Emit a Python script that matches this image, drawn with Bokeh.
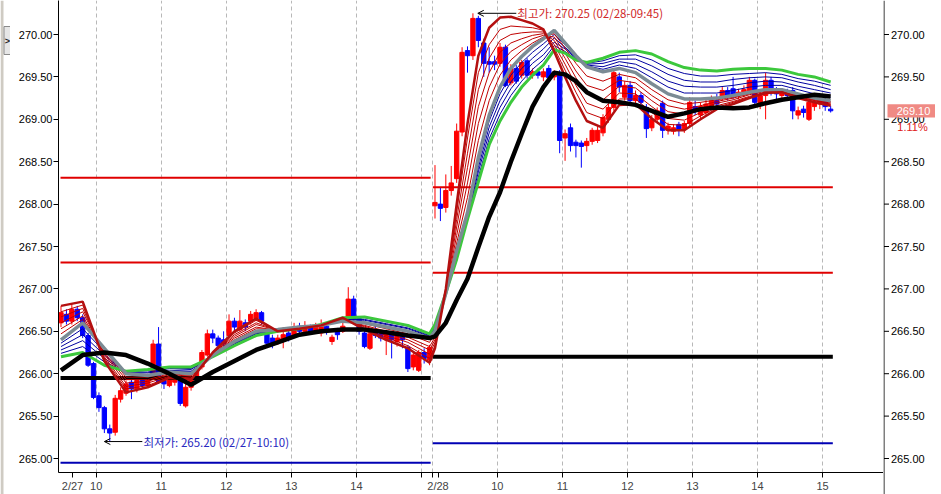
from bokeh.plotting import figure
from bokeh.layouts import row
from bokeh.models import (Range1d, FixedTicker, Arrow, OpenHead, Label, Span,
                          NumeralTickFormatter, ColumnDataSource)
from bokeh.core.properties import value
from bokeh.embed import file_html
from bokeh.resources import INLINE

# ---------------- 5-minute candles (bar index 0..68 = 2/27, 69..142 = 2/28) ----------------
open_px = [
    266.60, 266.70, 266.62, 266.76, 266.66, 266.45, 266.12, 265.74, 265.60, 265.35,
    265.31, 265.70, 265.77, 265.90, 265.82, 265.93, 265.86, 265.98, 266.35, 265.92,
    265.86, 265.90, 265.92, 265.62, 265.84, 265.95, 266.08, 266.22, 266.47, 266.42,
    266.40, 266.45, 266.62, 266.52, 266.60, 266.62, 266.65, 266.72, 266.48, 266.42,
    266.38, 266.38, 266.48, 266.45, 266.56, 266.50, 266.55, 266.50, 266.48, 266.56,
    266.38, 266.50, 266.50, 266.65, 266.88, 266.65, 266.48, 266.30, 266.50, 266.47,
    266.40, 266.47, 266.38, 266.45, 266.31, 266.08, 266.04, 266.25, 266.16,
    267.98, 268.00, 267.96, 268.16, 268.30, 268.85, 269.81, 269.75, 270.19, 269.90,
    269.68, 269.68, 269.66, 269.85, 269.43, 269.60, 269.52, 269.69, 269.52, 269.56,
    269.50, 269.60, 269.50, 269.55, 268.78, 268.90, 268.73, 268.72, 268.69, 268.74,
    268.75, 268.84, 269.00, 269.14, 269.50, 269.26, 269.40, 269.22, 269.28, 269.14,
    268.90, 269.00, 269.19, 268.87, 268.86, 268.94, 268.88, 268.95, 269.15, 269.05,
    269.08, 269.15, 269.22, 269.26, 269.34, 269.36, 269.28, 269.30, 269.32, 269.46,
    269.17, 269.28, 269.46, 269.33, 269.28, 269.32, 269.34, 269.05, 269.12, 269.00,
    269.15, 269.18, 269.22, 269.12]
high_px = [
    266.80, 266.76, 266.82, 266.80, 266.70, 266.48, 266.14, 265.78, 265.62, 265.40,
    265.75, 265.84, 265.92, 265.96, 265.97, 265.96, 266.00, 266.40, 266.55, 265.95,
    265.98, 265.98, 265.95, 265.88, 265.98, 266.10, 266.28, 266.52, 266.52, 266.45,
    266.50, 266.70, 266.66, 266.75, 266.64, 266.74, 266.76, 266.74, 266.52, 266.46,
    266.46, 266.55, 266.52, 266.60, 266.60, 266.62, 266.58, 266.60, 266.64, 266.60,
    266.46, 266.54, 266.62, 267.02, 266.92, 266.68, 266.52, 266.50, 266.58, 266.50,
    266.52, 266.50, 266.50, 266.48, 266.34, 266.26, 266.28, 266.30, 266.34,
    268.46, 268.20, 268.35, 268.45, 268.95, 269.85, 269.86, 270.25, 270.22, 269.95,
    269.85, 269.75, 269.90, 269.88, 269.65, 269.64, 269.70, 269.72, 269.60, 269.60,
    269.60, 269.64, 269.58, 269.58, 268.88, 268.95, 268.76, 268.75, 268.78, 268.90,
    268.92, 269.06, 269.18, 269.60, 269.55, 269.45, 269.45, 269.34, 269.32, 269.18,
    269.05, 269.14, 269.22, 268.96, 268.94, 268.97, 268.98, 269.26, 269.22, 269.20,
    269.24, 269.28, 269.30, 269.38, 269.38, 269.50, 269.36, 269.40, 269.50, 269.48,
    269.32, 269.55, 269.50, 269.38, 269.36, 269.36, 269.38, 269.15, 269.16, 269.24,
    269.24, 269.26, 269.26, 269.16]
low_px = [
    266.55, 266.58, 266.58, 266.62, 266.42, 266.08, 265.70, 265.55, 265.30, 265.20,
    265.27, 265.66, 265.74, 265.70, 265.78, 265.82, 265.84, 265.95, 265.88, 265.82,
    265.84, 265.86, 265.62, 265.60, 265.80, 265.92, 266.05, 266.20, 266.36, 266.28,
    266.30, 266.42, 266.50, 266.50, 266.50, 266.58, 266.62, 266.58, 266.32, 266.30,
    266.34, 266.30, 266.38, 266.42, 266.46, 266.47, 266.46, 266.48, 266.44, 266.46,
    266.34, 266.40, 266.48, 266.62, 266.62, 266.46, 266.30, 266.28, 266.42, 266.38,
    266.22, 266.18, 266.32, 266.30, 266.02, 266.04, 266.02, 266.12, 266.10,
    267.83, 267.80, 267.90, 268.10, 268.25, 268.80, 269.55, 269.70, 269.85, 269.50,
    269.55, 269.58, 269.62, 269.38, 269.40, 269.42, 269.48, 269.48, 269.48, 269.48,
    269.45, 269.46, 269.46, 268.60, 268.51, 268.62, 268.55, 268.43, 268.62, 268.70,
    268.72, 268.80, 268.96, 269.10, 269.32, 269.22, 269.18, 269.18, 269.15, 268.78,
    268.86, 268.96, 268.78, 268.82, 268.82, 268.80, 268.84, 268.92, 269.05, 269.00,
    269.05, 269.12, 269.12, 269.22, 269.22, 269.24, 269.24, 269.26, 269.30, 269.15,
    269.12, 269.00, 269.28, 269.22, 269.22, 269.24, 269.00, 269.00, 269.02, 268.98,
    269.10, 269.12, 269.10, 269.08]
close_px = [
    266.72, 266.62, 266.76, 266.66, 266.45, 266.10, 265.72, 265.60, 265.35, 265.30,
    265.71, 265.80, 265.88, 265.82, 265.92, 265.86, 265.96, 266.35, 265.90, 265.88,
    265.93, 265.95, 265.65, 265.84, 265.95, 266.05, 266.25, 266.47, 266.42, 266.33,
    266.35, 266.62, 266.55, 266.62, 266.55, 266.70, 266.72, 266.62, 266.36, 266.35,
    266.42, 266.46, 266.42, 266.55, 266.50, 266.56, 266.50, 266.55, 266.56, 266.50,
    266.43, 266.46, 266.56, 266.88, 266.65, 266.50, 266.32, 266.47, 266.45, 266.42,
    266.47, 266.40, 266.47, 266.40, 266.06, 266.22, 266.25, 266.18, 266.31,
    268.02, 267.95, 268.16, 268.25, 268.86, 269.79, 269.75, 270.19, 269.93, 269.66,
    269.65, 269.65, 269.85, 269.40, 269.60, 269.45, 269.67, 269.52, 269.56, 269.52,
    269.56, 269.49, 269.55, 268.75, 268.83, 268.69, 268.69, 268.68, 268.74, 268.87,
    268.87, 269.02, 269.14, 269.55, 269.38, 269.40, 269.22, 269.28, 269.20, 268.89,
    269.00, 269.10, 268.87, 268.92, 268.90, 268.88, 268.95, 269.20, 269.10, 269.15,
    269.18, 269.22, 269.18, 269.34, 269.28, 269.28, 269.32, 269.35, 269.46, 269.20,
    269.28, 269.46, 269.33, 269.30, 269.32, 269.28, 269.10, 269.10, 269.08, 269.20,
    269.20, 269.22, 269.15, 269.10]

# ---------------- moving-average ribbon, sampled at these bar indices ----------------
ma_x = [0, 4, 8, 12, 16, 20, 24, 28, 32, 36, 40, 44, 48, 52, 56, 60, 64, 68,
        69, 71, 73, 75, 77, 79, 81, 83, 85, 87, 89, 91, 93, 95, 97,
        100, 103, 106, 109, 112, 115, 118, 121, 124, 127, 130, 133, 136, 139, 142]
ma_fast = [266.80, 266.85, 266.15, 265.78, 265.84, 265.95, 265.93, 266.25, 266.50, 266.65, 266.50, 266.53,
           266.57, 266.66, 266.52, 266.40, 266.30, 266.13, 266.30, 267.00, 268.00, 268.95, 269.75, 270.08,
           270.20, 270.21, 270.17, 270.13, 270.06, 269.80, 269.50, 269.22, 268.98, 268.90, 269.17, 269.18,
           269.01, 268.87, 268.87, 269.00, 269.12, 269.18, 269.25, 269.31, 269.32, 269.25, 269.20, 269.16]
ma_red1 = [266.73, 266.81, 266.18, 265.82, 265.86, 265.96, 265.94, 266.25, 266.48, 266.63, 266.50, 266.53,
           266.57, 266.65, 266.53, 266.43, 266.33, 266.18, 266.33, 266.99, 267.91, 268.78, 269.55, 269.88,
           270.06, 270.10, 270.09, 270.08, 270.05, 269.84, 269.58, 269.32, 269.08, 269.01, 269.24, 269.24,
           269.08, 268.94, 268.93, 269.04, 269.14, 269.20, 269.26, 269.32, 269.33, 269.26, 269.21, 269.17]
ma_red2 = [266.67, 266.77, 266.20, 265.85, 265.89, 265.97, 265.95, 266.24, 266.46, 266.60, 266.51, 266.54,
           266.57, 266.65, 266.55, 266.45, 266.37, 266.23, 266.37, 266.98, 267.82, 268.60, 269.35, 269.72,
           269.93, 270.00, 270.02, 270.03, 270.03, 269.88, 269.65, 269.40, 269.19, 269.12, 269.31, 269.30,
           269.15, 269.01, 268.99, 269.08, 269.16, 269.21, 269.27, 269.32, 269.33, 269.27, 269.22, 269.18]
ma_red3 = [266.60, 266.73, 266.23, 265.89, 265.91, 265.99, 265.97, 266.24, 266.44, 266.58, 266.51, 266.54,
           266.57, 266.64, 266.56, 266.48, 266.40, 266.28, 266.40, 266.98, 267.73, 268.43, 269.15, 269.55,
           269.79, 269.90, 269.95, 269.99, 270.01, 269.93, 269.72, 269.49, 269.30, 269.23, 269.39, 269.37,
           269.22, 269.09, 269.06, 269.12, 269.19, 269.23, 269.29, 269.33, 269.34, 269.28, 269.23, 269.19]
ma_red4 = [266.53, 266.68, 266.25, 265.93, 265.93, 266.00, 265.98, 266.23, 266.42, 266.55, 266.51, 266.54,
           266.57, 266.63, 266.57, 266.50, 266.43, 266.32, 266.43, 266.97, 267.63, 268.25, 268.95, 269.38,
           269.65, 269.80, 269.88, 269.95, 269.99, 269.97, 269.78, 269.57, 269.40, 269.34, 269.46, 269.43,
           269.28, 269.16, 269.12, 269.16, 269.21, 269.25, 269.30, 269.34, 269.34, 269.28, 269.23, 269.20]
ma_red5 = [266.47, 266.64, 266.28, 265.96, 265.96, 266.01, 265.99, 266.23, 266.40, 266.53, 266.52, 266.55,
           266.57, 266.63, 266.59, 266.53, 266.47, 266.37, 266.47, 266.96, 267.54, 268.08, 268.75, 269.22,
           269.52, 269.70, 269.81, 269.90, 269.97, 270.01, 269.84, 269.66, 269.51, 269.45, 269.53, 269.49,
           269.35, 269.23, 269.18, 269.20, 269.23, 269.26, 269.31, 269.34, 269.35, 269.29, 269.24, 269.21]
ma_gray = [266.40, 266.60, 266.30, 266.00, 265.98, 266.02, 266.00, 266.22, 266.38, 266.50, 266.52, 266.55,
           266.57, 266.62, 266.60, 266.55, 266.50, 266.42, 266.50, 266.95, 267.45, 267.90, 268.55, 269.05,
           269.38, 269.60, 269.74, 269.86, 269.95, 270.05, 269.90, 269.75, 269.62, 269.56, 269.60, 269.55,
           269.42, 269.30, 269.24, 269.24, 269.25, 269.28, 269.32, 269.35, 269.35, 269.30, 269.25, 269.22]
ma_blue1 = [266.36, 266.53, 266.26, 266.01, 265.99, 266.03, 266.02, 266.22, 266.37, 266.49, 266.52, 266.55,
            266.57, 266.63, 266.61, 266.56, 266.51, 266.43, 266.52, 266.95, 267.43, 267.88, 268.49, 268.98,
            269.30, 269.52, 269.67, 269.79, 269.89, 270.00, 269.88, 269.74, 269.63, 269.59, 269.64, 269.60,
            269.49, 269.38, 269.31, 269.31, 269.31, 269.34, 269.38, 269.40, 269.40, 269.35, 269.30, 269.26]
ma_blue2 = [266.32, 266.46, 266.22, 266.01, 266.01, 266.04, 266.03, 266.21, 266.36, 266.48, 266.51, 266.54,
            266.57, 266.64, 266.63, 266.58, 266.53, 266.44, 266.53, 266.95, 267.41, 267.87, 268.43, 268.91,
            269.22, 269.44, 269.60, 269.72, 269.83, 269.96, 269.85, 269.73, 269.64, 269.62, 269.68, 269.65,
            269.56, 269.45, 269.39, 269.38, 269.38, 269.40, 269.43, 269.45, 269.44, 269.39, 269.35, 269.31]
ma_blue3 = [266.28, 266.39, 266.18, 266.02, 266.02, 266.06, 266.05, 266.21, 266.35, 266.47, 266.51, 266.54,
            266.58, 266.64, 266.64, 266.59, 266.54, 266.45, 266.55, 266.95, 267.39, 267.85, 268.38, 268.84,
            269.14, 269.36, 269.52, 269.66, 269.76, 269.91, 269.83, 269.72, 269.65, 269.66, 269.71, 269.71,
            269.63, 269.53, 269.46, 269.44, 269.44, 269.47, 269.49, 269.50, 269.49, 269.44, 269.40, 269.35]
ma_blue4 = [266.24, 266.32, 266.14, 266.02, 266.04, 266.07, 266.06, 266.20, 266.34, 266.46, 266.50, 266.53,
            266.58, 266.65, 266.66, 266.61, 266.56, 266.46, 266.56, 266.95, 267.37, 267.84, 268.32, 268.77,
            269.06, 269.28, 269.45, 269.59, 269.70, 269.87, 269.80, 269.71, 269.66, 269.69, 269.75, 269.76,
            269.70, 269.60, 269.54, 269.51, 269.51, 269.53, 269.54, 269.55, 269.53, 269.48, 269.45, 269.40]
ma_green = [266.20, 266.25, 266.10, 266.03, 266.05, 266.08, 266.08, 266.20, 266.33, 266.45, 266.50, 266.53,
            266.58, 266.66, 266.67, 266.62, 266.57, 266.47, 266.58, 266.95, 267.35, 267.82, 268.26, 268.70,
            268.98, 269.20, 269.38, 269.52, 269.64, 269.82, 269.78, 269.70, 269.67, 269.72, 269.79, 269.81,
            269.77, 269.68, 269.61, 269.58, 269.57, 269.59, 269.60, 269.60, 269.58, 269.53, 269.50, 269.44]
ma_black = [266.04, 266.22, 266.25, 266.22, 266.12, 266.00, 265.87, 266.02, 266.15, 266.28, 266.37, 266.46,
            266.50, 266.52, 266.52, 266.49, 266.45, 266.42, 266.44, 266.60, 266.87, 267.12, 267.49, 267.85,
            268.14, 268.50, 268.83, 269.15, 269.38, 269.55, 269.53, 269.45, 269.32, 269.22, 269.20, 269.17,
            269.10, 269.03, 269.07, 269.12, 269.14, 269.13, 269.14, 269.19, 269.23, 269.26, 269.29, 269.27]

# ---------------- reference levels per day ----------------
lvl_x0 = [-0.09, -0.09, -0.09, -0.09, 68.6, 68.6, 68.6, 68.6]
lvl_x1 = [68.2, 68.2, 68.2, 68.2, 142.4, 142.4, 142.4, 142.4]
lvl_y = [268.31, 267.31, 265.95, 264.95, 268.20, 267.19, 266.20, 265.18]
lvl_kind = ["r", "r", "k", "b", "r", "r", "k", "b"]

# ---------------- axis content ----------------
grid_x = [6.5, 18.5, 30.5, 42.5, 54.5, 66.5, 68.5, 80.5, 92.5, 104.5, 116.5, 128.5, 140.5]
x_tick_pos = [2.12, 6.5, 18.5, 30.5, 42.5, 54.5, 66.5, 68.5, 69.56,
              80.5, 92.5, 104.5, 116.5, 128.5, 140.5]
x_tick_lbl = ["2/27", "10", "11", "12", "13", "14", "", "", "2/28",
              "10", "11", "12", "13", "14", "15"]
y_ticks = [265.0, 265.5, 266.0, 266.5, 267.0, 267.5, 268.0, 268.5, 269.0, 269.5, 270.0]

low_note = "최저가: 265.20 (02/27-10:10)"
high_note = "최고가: 270.25 (02/28-09:45)"
last_price = 269.10
last_chg = "1.11%"

# ---------------------------------------------------------------------------
FONT = "Liberation Sans"
KFONT = "Noto Sans CJK KR"
Y_TOP = 270.401
H = 494

idx = list(range(len(close_px)))
up = [c >= o for o, c in zip(open_px, close_px)]
src = ColumnDataSource(dict(
    x=idx, h=high_px, l=low_px,
    top=[max(o, c) for o, c in zip(open_px, close_px)],
    bot=[min(o, c) for o, c in zip(open_px, close_px)],
    col=["#FF0000" if u else "#0000FF" for u in up]))

p = figure(frame_width=825, frame_height=472,
           x_range=Range1d(-0.461, 151.75), y_range=Range1d(264.835, Y_TOP),
           output_backend="svg", toolbar_location=None,
           min_border_left=48, min_border_right=0, min_border_top=0, min_border_bottom=22)
p.outline_line_color = None
p.background_fill_color = "white"
p.border_fill_color = "white"

# x axis
xa = p.xaxis[0]
xa.ticker = FixedTicker(ticks=x_tick_pos)
xa.major_label_overrides = {k: v for k, v in zip(x_tick_pos, x_tick_lbl)}
xa.major_label_text_font = FONT
xa.major_label_text_font_size = "11px"
xa.major_label_standoff = 2
xa.major_tick_out = 5
xa.major_tick_in = 0
xa.minor_tick_line_color = None
xa.axis_line_color = "black"
xa.major_tick_line_color = "black"
p.xgrid.ticker = FixedTicker(ticks=grid_x)
p.xgrid.grid_line_color = "#B8B8B8"
p.xgrid.grid_line_dash = "4 3"
p.ygrid.grid_line_color = None

# left y axis
ya = p.yaxis[0]
ya.ticker = FixedTicker(ticks=y_ticks)
ya.formatter = NumeralTickFormatter(format="0.00")
ya.major_label_text_font = FONT
ya.major_label_text_font_size = "11px"
ya.major_label_text_color = "black"
ya.major_tick_out = 5
ya.major_tick_in = 0
ya.minor_tick_line_color = None
ya.axis_line_color = "black"
ya.major_tick_line_color = "black"
ya.major_label_standoff = 1

# candles
p.segment(x0="x", y0="l", x1="x", y1="h", line_color="col", line_width=1, source=src)
p.vbar(x="x", width=0.8, top="top", bottom="bot", fill_color="col", line_color="col",
       line_width=1, source=src)

# level lines
lvl_col = {"r": "#E00000", "k": "black", "b": "#0000B4"}
lvl_w = {"r": 2, "k": 4, "b": 2}
for x0, x1, y, k in zip(lvl_x0, lvl_x1, lvl_y, lvl_kind):
    p.line([x0, x1], [y, y], line_color=lvl_col[k], line_width=lvl_w[k])

# ribbon
for arr in (ma_blue1, ma_blue2, ma_blue3, ma_blue4):
    p.line(ma_x, arr, line_color="#0000A0", line_width=1)
for arr in (ma_red1, ma_red2, ma_red3, ma_red4, ma_red5):
    p.line(ma_x, arr, line_color="#C00000", line_width=1)
p.line(ma_x, ma_green, line_color="#3CC83C", line_width=3)
p.line(ma_x, ma_gray, line_color="#7B8B94", line_width=3.5)
p.line(ma_x, ma_fast, line_color="#B41010", line_width=2.5)
p.line(ma_x, ma_black, line_color="black", line_width=4.5)

# extreme-price notes
p.add_layout(Arrow(end=OpenHead(size=6, line_width=1, line_color="black"),
                   x_start=15.0, y_start=265.20, x_end=8.0, y_end=265.20,
                   line_color="black", line_width=1))
p.add_layout(Label(x=15.2, y=265.20, text=low_note, text_font=KFONT, text_font_size="11.5px",
                   text_color="#2828C0", text_align="left", text_baseline="middle"))
p.add_layout(Arrow(end=OpenHead(size=6, line_width=1, line_color="black"),
                   x_start=84.0, y_start=270.25, x_end=76.9, y_end=270.25,
                   line_color="black", line_width=1))
p.add_layout(Label(x=84.2, y=270.25, text=high_note, text_font=KFONT, text_font_size="11.5px",
                   text_color="#D02828", text_align="left", text_baseline="middle"))

# ---------------- left window edge with the small panel button ----------------
lf = figure(frame_width=10, frame_height=H, x_range=Range1d(0, 10), y_range=Range1d(H, 0),
            output_backend="svg", toolbar_location=None,
            min_border_left=0, min_border_right=0, min_border_top=0, min_border_bottom=0,
            x_axis_type=None, y_axis_type=None)
lf.outline_line_color = None
lf.grid.grid_line_color = None
lf.background_fill_color = "white"
lf.border_fill_color = "white"
lf.quad(left=[0], right=[3], top=[0], bottom=[H], fill_color="#CFCBC3", line_color=None)
lf.quad(left=[3.5], right=[10], top=[26], bottom=[54], fill_color="#E6E6E6",
        line_color="#8A8A8A", line_width=1)
lf.text(x=[6.8], y=[40], text=[">"], text_font=value(FONT), text_font_size="9px",
        text_font_style="bold", text_color="#202020", text_align="center", text_baseline="middle")

# ---------------- right-hand price scale (own panel sharing the value scale) ----------------
r = figure(frame_width=52, frame_height=H,
           x_range=Range1d(0, 52), y_range=Range1d(Y_TOP - H / 84.8, Y_TOP),
           output_backend="svg", toolbar_location=None,
           min_border_left=0, min_border_right=0, min_border_top=0, min_border_bottom=0,
           x_axis_type=None, y_axis_type=None)
r.outline_line_color = None
r.grid.grid_line_color = None
r.background_fill_color = "white"
r.border_fill_color = "white"
r.add_layout(Span(location=0.5, dimension="height", line_color="black", line_width=1))
r.segment(x0=[0.5] * len(y_ticks), x1=[5.5] * len(y_ticks), y0=y_ticks, y1=y_ticks,
          line_color="black", line_width=1)
r.text(x=[7.5] * len(y_ticks), y=y_ticks, text=[f"{v:.2f}" for v in y_ticks],
       text_font=value(FONT), text_font_size="11px", text_color="black",
       text_align="left", text_baseline="middle")
r.quad(left=[4], right=[55], bottom=[last_price - 0.078], top=[last_price + 0.078],
       fill_color="#F08A84", line_color=None)
r.text(x=[30], y=[last_price], text=[f"{last_price:.2f}"], text_font=value(FONT),
       text_font_size="11px", text_color="white", text_align="center", text_baseline="middle")
r.text(x=[29], y=[last_price - 0.19], text=[last_chg], text_font=value(FONT),
       text_font_size="11px", text_color="#E02020", text_align="center", text_baseline="middle")

layout = row(lf, p, r, spacing=0)
open("out.html", "w").write(file_html(layout, INLINE))
